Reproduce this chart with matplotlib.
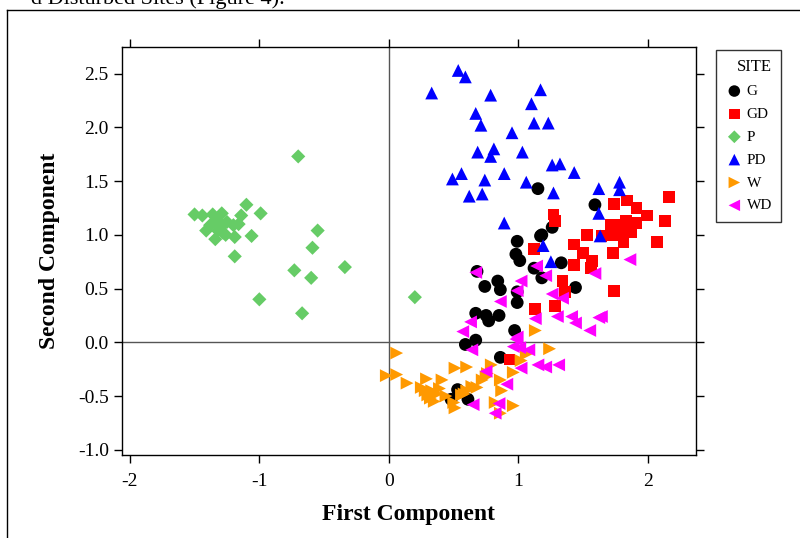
import numpy as np
import matplotlib
matplotlib.use("Agg")
import matplotlib.pyplot as plt
from matplotlib.lines import Line2D

plt.rcParams['font.family'] = ['Liberation Serif', 'DejaVu Serif']

# ---- data (first component, second component) ----
g_x = [0.99, 1.17, 0.98, 1.01, 1.33, 1.12, 1.18, 0.84, 0.74, 0.86, 0.99, 1.44,
       0.99, 0.68, 0.67, 0.75, 0.85, 0.77, 0.97, 1.15, 1.59, 1.26, 0.67, 0.59,
       0.86, 0.53, 0.48, 0.61, 1.18]
g_y = [0.94, 0.99, 0.82, 0.76, 0.74, 0.69, 0.60, 0.57, 0.52, 0.49, 0.47, 0.51,
       0.37, 0.66, 0.27, 0.25, 0.25, 0.20, 0.11, 1.43, 1.28, 1.07, 0.02, -0.02,
       -0.14, -0.44, -0.53, -0.53, 1.00]

gd_x = [2.16, 1.74, 1.84, 1.91, 1.99, 2.13, 2.07, 1.27, 1.28, 1.71, 1.76, 1.83,
        1.91, 1.87, 1.81, 1.72, 1.81, 1.53, 1.64, 1.43, 1.50, 1.73, 1.57, 1.43,
        1.56, 1.34, 1.36, 1.74, 1.12, 1.28, 1.13, 0.93]
gd_y = [1.35, 1.29, 1.32, 1.25, 1.18, 1.13, 0.93, 1.19, 1.13, 1.09, 1.09, 1.13,
        1.11, 1.03, 1.04, 1.00, 0.93, 1.00, 0.99, 0.91, 0.83, 0.83, 0.76, 0.72,
        0.69, 0.57, 0.47, 0.48, 0.87, 0.34, 0.31, -0.16]

p_x = [-0.70, -1.10, -0.99, -1.14, -1.50, -1.44, -1.36, -1.29, -1.33, -1.38,
       -1.30, -1.20, -1.16, -1.41, -1.32, -1.26, -1.19, -1.34, -1.06, -0.55,
       -0.59, -1.19, -0.73, -0.60, -0.34, -1.00, -0.67, 0.20, -1.25, -1.28]
p_y = [1.73, 1.28, 1.20, 1.18, 1.19, 1.18, 1.19, 1.20, 1.14, 1.09,
       1.07, 1.09, 1.10, 1.04, 1.04, 1.00, 0.98, 0.96, 0.99, 1.04,
       0.88, 0.80, 0.67, 0.60, 0.70, 0.40, 0.27, 0.42, 1.12, 1.02]

pd_x = [0.535, 0.59, 0.33, 0.785, 1.17, 1.10, 0.67, 0.71, 1.12, 1.23, 0.95,
        0.685, 0.81, 0.785, 1.03, 1.26, 1.32, 1.43, 0.56, 0.49, 0.74, 0.89,
        1.06, 0.62, 0.72, 1.27, 1.62, 1.78, 1.78, 0.89, 1.62, 1.63, 1.25, 1.19]
pd_y = [2.53, 2.47, 2.32, 2.30, 2.35, 2.22, 2.13, 2.02, 2.04, 2.04, 1.95,
        1.77, 1.80, 1.73, 1.77, 1.65, 1.66, 1.58, 1.57, 1.52, 1.51, 1.57,
        1.49, 1.36, 1.38, 1.39, 1.43, 1.49, 1.42, 1.11, 1.20, 0.99, 0.75, 0.90]

w_x = [0.06, -0.02, 0.06, 0.14, 0.51, 0.60, 0.29, 0.41, 0.28, 0.30, 0.33, 0.37,
       0.39, 0.32, 0.51, 0.56, 0.60, 0.64, 0.68, 0.72, 0.75, 0.79, 0.86, 0.87,
       0.96, 1.02, 1.06, 1.13, 1.24, 0.96, 0.86, 0.82, 0.50, 0.35, 0.44, 0.25,
       0.58, 0.76]
w_y = [-0.10, -0.31, -0.30, -0.38, -0.24, -0.23, -0.34, -0.35, -0.45, -0.49,
       -0.45, -0.48, -0.43, -0.52, -0.61, -0.49, -0.45, -0.41, -0.42, -0.35,
       -0.32, -0.21, -0.35, -0.45, -0.28, -0.17, -0.11, 0.11, -0.06, -0.59,
       -0.66, -0.56, -0.56, -0.55, -0.50, -0.42, -0.48, -0.29]

wd_x = [0.67, 1.14, 1.21, 1.02, 0.99, 0.86, 1.26, 1.34, 0.63, 0.57, 1.13, 1.30,
        1.41, 1.44, 1.55, 1.62, 0.99, 1.86, 1.59, 1.64, 0.98, 0.96, 1.01, 1.08,
        0.64, 1.31, 1.21, 1.15, 1.02, 0.75, 0.91, 0.65, 0.85, 0.82]
wd_y = [0.65, 0.71, 0.62, 0.57, 0.48, 0.38, 0.45, 0.41, 0.19, 0.10, 0.22, 0.24,
        0.24, 0.18, 0.11, 0.23, 0.05, 0.77, 0.64, 0.24, 0.03, -0.04, -0.05, -0.07,
        -0.07, -0.21, -0.23, -0.21, -0.24, -0.27, -0.39, -0.58, -0.57, -0.66]

sites = ['G', 'GD', 'P', 'PD', 'W', 'WD']
xs = [g_x, gd_x, p_x, pd_x, w_x, wd_x]
ys = [g_y, gd_y, p_y, pd_y, w_y, wd_y]
colors = ['black', '#ff0000', '#66cc66', '#0000ff', '#ff9900', '#ff00ff']
markers = ['o', 's', 'D', '^', '>', '<']
sizes = [85, 72, 52, 85, 85, 85]

fig = plt.figure(figsize=(8, 5.38), dpi=100)
ax = fig.add_axes([0.1525, 0.154, 0.7175, 0.759])

ax.axhline(0, color='#555555', lw=1, zorder=1)
ax.axvline(0, color='#555555', lw=1, zorder=1)

for s, x, y, c, m, sz in zip(sites, xs, ys, colors, markers, sizes):
    ax.scatter(x, y, color=c, marker=m, s=sz, label=s, edgecolors='none', zorder=3)

ax.set_xlim(-2.06, 2.37)
ax.set_ylim(-1.05, 2.75)
ax.set_xticks([-2, -1, 0, 1, 2])
ax.set_xticklabels(['-2', '-1', '0', '1', '2'])
ax.set_yticks([-1.0, -0.5, 0.0, 0.5, 1.0, 1.5, 2.0, 2.5])
ax.set_yticklabels(['-1.0', '-0.5', '0.0', '0.5', '1.0', '1.5', '2.0', '2.5'])
ax.tick_params(direction='out', length=6, width=1, labelsize=14,
               top=True, right=True)
ax.tick_params(axis='x', pad=7)
for sp in ax.spines.values():
    sp.set_linewidth(1)

ax.set_xlabel('First Component', fontsize=17, fontweight='bold', labelpad=10)
ax.set_ylabel('Second Component', fontsize=17, fontweight='bold', labelpad=13)

leg = fig.legend(loc='upper left', bbox_to_anchor=(0.895, 0.907), title='SITE',
                 fontsize=11, title_fontsize=12, frameon=True, fancybox=False,
                 edgecolor='black', handletextpad=0.2, borderpad=0.6,
                 labelspacing=0.6, handlelength=1.2, markerscale=0.9,
                 borderaxespad=0)
leg.get_frame().set_linewidth(1)
leg._legend_box.align = 'right'

# page frame and cut-off caption line from the source document
fig.add_artist(Line2D([0.00875, 0.00875], [0, 0.9814], color='black', lw=1))
fig.add_artist(Line2D([0.00875, 1.0], [0.9814, 0.9814], color='black', lw=1))
fig.text(0.039, 0.9925, 'd Disturbed Sites (Figure 4).', fontsize=16, va='baseline')

fig.savefig('out.png', dpi=100)
